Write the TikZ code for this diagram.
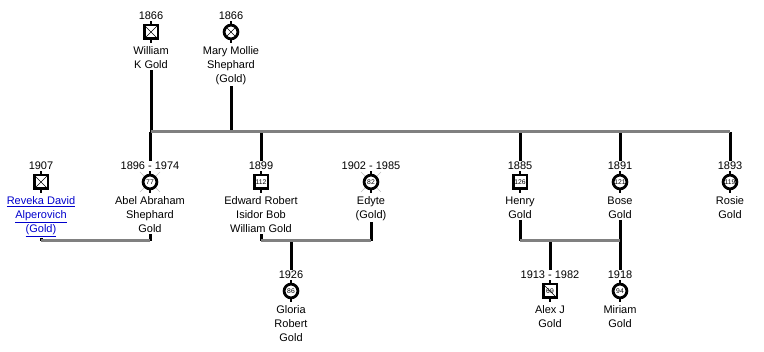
\documentclass[tikz,border=0pt]{standalone}
\usepackage{fontspec}
\setmainfont{Liberation Sans}
\usetikzlibrary{positioning, backgrounds}
\definecolor{barGray}{RGB}{128,128,128}
\definecolor{linkBlue}{RGB}{0,0,204}
\tikzstyle{male} = [rectangle, draw=black, line width=2.8pt, fill=white, minimum size=13.8pt, inner sep=0pt, font=\fontsize{6.8}{6.8}\selectfont]
\tikzstyle{female} = [circle, draw=black, line width=2.8pt, fill=white, minimum size=13.8pt, inner sep=0pt, font=\fontsize{6.8}{6.8}\selectfont]
\tikzstyle{crossed} = [path picture={\draw[line width=0.6pt] (path picture bounding box.north west) -- (path picture bounding box.south east) (path picture bounding box.north east) -- (path picture bounding box.south west);}]
\tikzstyle{struck} = [path picture={\draw[line width=0.6pt] (path picture bounding box.north west) -- (path picture bounding box.south east);}]
\tikzstyle{kin} = [line width=3pt, black]
\tikzstyle{bar} = [line width=3pt, barGray]

\begin{document}
\begin{tikzpicture}[x=1pt, y=-1pt, every node/.style={font=\fontsize{11}{14}\selectfont, align=center, inner sep=1pt}]
  \useasboundingbox (0,0) rectangle (764,352);

  \node[male, crossed] (william) at (151,32) {};
  \node[above=3pt of william] (williamyr) {1866};
  \node[below=5.5pt of william] (williamnm) {William\\K Gold};
  \node[female, crossed] (mary) at (231,32) {};
  \node[above=3pt of mary] (maryyr) {1866};
  \node[below=5.5pt of mary] (marynm) {Mary Mollie\\Shephard\\(Gold)};

  \node[male, crossed] (reveka) at (41,182) {};
  \node[above=3pt of reveka] (revekayr) {1907};
  \node[below=5.5pt of reveka, text=linkBlue] (revekanm) {\underline{Reveka David}\\\underline{Alperovich}\\\underline{(Gold)}};
  \node[female] (abel) at (150,182) {77};
  \node[above=3pt of abel] (abelyr) {1896 - 1974};
  \node[below=5.5pt of abel] (abelnm) {Abel Abraham\\Shephard\\Gold};
  \node[male] (edward) at (261,182) {112};
  \node[above=3pt of edward] (edwardyr) {1899};
  \node[below=5.5pt of edward] (edwardnm) {Edward Robert\\Isidor Bob\\William Gold};
  \node[female] (edyte) at (371,182) {82};
  \node[above=3pt of edyte] (edyteyr) {1902 - 1985};
  \node[below=5.5pt of edyte] (edytenm) {Edyte\\(Gold)};
  \node[male] (henry) at (520,182) {126};
  \node[above=3pt of henry] (henryyr) {1885};
  \node[below=5.5pt of henry] (henrynm) {Henry\\Gold};
  \node[female] (bose) at (620,182) {121};
  \node[above=3pt of bose] (boseyr) {1891};
  \node[below=5.5pt of bose] (bosenm) {Bose\\Gold};
  \node[female] (rosie) at (730,182) {119};
  \node[above=3pt of rosie] (rosieyr) {1893};
  \node[below=5.5pt of rosie] (rosienm) {Rosie\\Gold};

  \node[female] (gloria) at (291,291) {86};
  \node[above=3pt of gloria] (gloriayr) {1926};
  \node[below=5.5pt of gloria] (glorianm) {Gloria\\Robert\\Gold};
  \node[male, struck] (alex) at (550,291) {69};
  \node[above=3pt of alex] (alexyr) {1913 - 1982};
  \node[below=5.5pt of alex] (alexnm) {Alex J\\Gold};
  \node[female] (miriam) at (620,291) {94};
  \node[above=3pt of miriam] (miriamyr) {1918};
  \node[below=5.5pt of miriam] (miriamnm) {Miriam\\Gold};

  \foreach \p in {william, mary, reveka, abel, edward, edyte, henry, bose, rosie, gloria, alex, miriam}
    \draw[line width=2pt] (\p.north) -- ++(0,-3) (\p.south) -- ++(0,3);

  \begin{scope}[on background layer]
    \foreach \p in {abel, edyte}
      \draw[line width=0.4pt, barGray!50] (\p.center) +(-10,-10) -- +(10,10) +(10,-10) -- +(-10,10);
  \end{scope}

  \coordinate (topbar) at (151,132);
  \coordinate (topend) at (730,132);
  \coordinate (wedbar) at (0,241);

  \draw[kin] (williamnm.south) -- (williamnm.south |- topbar);
  \draw[kin] (marynm.south) -- (marynm.south |- topbar);
  \foreach \p in {abelyr, edwardyr, henryyr, boseyr, rosieyr}
    \draw[kin] (\p.north |- topbar) -- (\p.north);
  \draw[bar] (topbar) -- (topend);

  \draw[kin] (revekanm.south) -- (revekanm.south |- wedbar);
  \draw[kin] (abelnm.south) -- (abelnm.south |- wedbar);
  \draw[bar] (revekanm.south |- wedbar) -- (abelnm.south |- wedbar);

  \draw[kin] (edwardnm.south) -- (edwardnm.south |- wedbar);
  \draw[kin] (edytenm.south) -- (edytenm.south |- wedbar);
  \draw[kin] (gloriayr.north |- wedbar) -- (gloriayr.north);
  \draw[bar] (edwardnm.south |- wedbar) -- (edytenm.south |- wedbar);

  \draw[kin] (henrynm.south) -- (henrynm.south |- wedbar);
  \draw[kin] (bosenm.south) -- (miriamyr.north);
  \draw[kin] (alexyr.north |- wedbar) -- (alexyr.north);
  \draw[bar] (henrynm.south |- wedbar) -- (bosenm.south |- wedbar);
\end{tikzpicture}
\end{document}
